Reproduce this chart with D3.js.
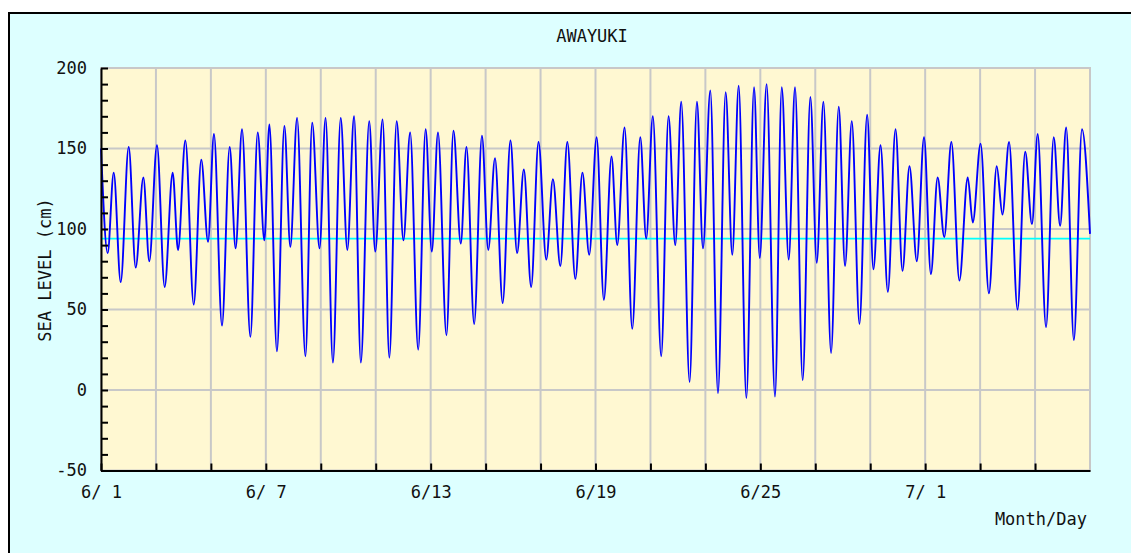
<!DOCTYPE html>
<html>
<head>
<meta charset="utf-8">
<script src="https://cdn.jsdelivr.net/npm/d3@7"></script>
<style>
  body { margin: 0; background: #fff; }
  text { font-family: "DejaVu Sans Mono", monospace; font-size: 17px; fill: #111; }
</style>
</head>
<body>
<div id="chart"></div>
<script>
// station name and tide extremes
var title = "AWAYUKI";

// hours since 6/1 00:00
var tideHours = [0, 5.8, 11.1, 17.2, 24.2, 30.3, 37.0, 42.2, 48.9, 55.6, 62.6, 67.3,
  73.7, 81.0, 87.6, 93.5, 98.7, 105.7, 112.4, 117.6, 123.2, 130.5, 136.9, 142.7,
  147.1, 153.7, 160.2, 165.4, 171.3, 178.6, 184.5, 190.9, 196.2, 202.6, 209.4, 215.2,
  221.1, 227.0, 234.3, 239.6, 246.0, 251.9, 258.3, 264.2, 270.1, 277.1, 283.6, 289.0,
  294.4, 301.8, 307.9, 314.3, 319.3, 326.0, 332.8, 338.3, 344.2, 350.9, 357.7, 363.5,
  369.4, 375.8, 382.2, 389.0, 394.8, 401.3, 407.4, 414.4, 420.6, 426.5, 433.0, 439.3,
  446.0, 451.0, 457.4, 464.1, 471.1, 476.3, 482.1, 489.4, 495.8, 501.7, 506.9, 514.2,
  520.6, 525.9, 532.3, 539.0, 545.7, 551.5, 557.1, 563.8, 570.5, 575.5, 581.5, 588.8,
  594.7, 600.8, 606.3, 613.0, 619.7, 625.3, 631.1, 637.8, 644.5, 650.0, 655.9, 662.6,
  669.3, 674.8, 681.0, 687.4, 694.1, 700.2, 706.3, 712.7, 719.0, 725.0, 730.9, 736.7,
  742.9, 749.9, 757.2, 761.6, 768.4, 775.7, 782.5, 787.5, 793.3, 800.7, 807.4, 813.3,
  818.3, 825.6, 832.3, 837.9, 843.2, 849.9, 857.0, 864];

// sea level (cm)
var tideLevels = [150, 85, 135, 67, 151, 76, 132, 80, 152, 64, 135, 87,
  155, 53, 143, 92, 159, 40, 151, 88, 162, 33, 160, 93,
  165, 24, 164, 89, 169, 21, 166, 88, 169, 17, 169, 87,
  170, 17, 167, 86, 168, 20, 167, 93, 160, 25, 162, 86,
  160, 34, 161, 91, 151, 41, 158, 87, 144, 54, 155, 85,
  137, 64, 154, 81, 131, 77, 154, 69, 135, 84, 157, 56,
  145, 90, 163, 38, 157, 94, 170, 21, 170, 90, 179, 5,
  179, 88, 186, -2, 185, 84, 189, -5, 188, 82, 190, -4,
  188, 81, 188, 6, 182, 79, 179, 23, 176, 77, 167, 41,
  171, 75, 152, 61, 162, 74, 139, 80, 157, 72, 132, 95,
  154, 68, 132, 104, 153, 60, 139, 109, 154, 50, 148, 103,
  159, 39, 157, 102, 163, 31, 162, 97];

var meanLevel = 94;

var xTickHours = [0, 48, 96, 144, 192, 240, 288, 336, 384, 432, 480, 528, 576, 624, 672, 720, 768, 816];
var xLabelHours = [0, 144, 288, 432, 576, 720];
var xLabels = ["6/ 1", "6/ 7", "6/13", "6/19", "6/25", "7/ 1"];
var yLabels = [-50, 0, 50, 100, 150, 200];

(function() {
  var W = 1131, H = 553;
  var plot = { left: 101, right: 1090, top: 68, bottom: 470.5 };

  var svg = d3.select("#chart").append("svg")
    .attr("width", W)
    .attr("height", H);

  // panel
  svg.append("rect")
    .attr("x", 9).attr("y", 13)
    .attr("width", W - 9).attr("height", H - 13)
    .attr("fill", "#ddffff");
  svg.append("path")
    .attr("d", "M9," + H + "V13H" + W)
    .attr("fill", "none")
    .attr("stroke", "#000")
    .attr("stroke-width", 2);

  var x = d3.scaleLinear().domain([0, 864]).range([plot.left, plot.right]);
  var y = d3.scaleLinear().domain([-50, 200]).range([plot.bottom, plot.top]);

  svg.append("rect")
    .attr("x", plot.left).attr("y", plot.top)
    .attr("width", plot.right - plot.left).attr("height", plot.bottom - plot.top)
    .attr("fill", "#fff8d2")
    .attr("stroke", "#c8c8c8")
    .attr("stroke-width", 2);

  // grid
  svg.append("g").selectAll("line")
    .data(xTickHours.slice(1))
    .enter().append("line")
    .attr("x1", function(d) { return x(d); })
    .attr("x2", function(d) { return x(d); })
    .attr("y1", plot.top).attr("y2", plot.bottom)
    .attr("stroke", "#c8c8c8")
    .attr("stroke-width", 2);

  svg.append("g").selectAll("line")
    .data(yLabels.slice(1, -1))
    .enter().append("line")
    .attr("x1", plot.left).attr("x2", plot.right)
    .attr("y1", function(d) { return y(d); })
    .attr("y2", function(d) { return y(d); })
    .attr("stroke", "#c8c8c8")
    .attr("stroke-width", 2);

  // mean sea level
  svg.append("line")
    .attr("x1", plot.left).attr("x2", plot.right)
    .attr("y1", y(meanLevel)).attr("y2", y(meanLevel))
    .attr("stroke", "#00ffff")
    .attr("stroke-width", 1.6);

  // tide curve
  var tide = tideHours.map(function(h, i) { return { hour: h, level: tideLevels[i] }; });

  var line = d3.line()
    .x(function(d) { return x(d.hour); })
    .y(function(d) { return y(d.level); })
    .curve(d3.curveMonotoneX);

  svg.append("path")
    .datum(tide)
    .attr("d", line)
    .attr("fill", "none")
    .attr("stroke", "#0000ff")
    .attr("stroke-width", 1.9)
    .attr("stroke-linejoin", "round");

  // axes
  var yAxis = d3.axisLeft(y)
    .tickValues(y.ticks(25))
    .tickSize(-7)
    .tickSizeOuter(0)
    .tickPadding(14)
    .tickFormat(function(d) { return yLabels.indexOf(d) >= 0 ? d : ""; });

  var xAxis = d3.axisBottom(x)
    .tickValues(xTickHours)
    .tickSize(-7)
    .tickSizeOuter(0)
    .tickPadding(15)
    .tickFormat(function(d) {
      var i = xLabelHours.indexOf(d);
      return i >= 0 ? xLabels[i] : "";
    });

  var gy = svg.append("g")
    .attr("transform", "translate(" + plot.left + ",0)")
    .call(yAxis);

  var gx = svg.append("g")
    .attr("transform", "translate(0," + plot.bottom + ")")
    .call(xAxis);

  [gx, gy].forEach(function(g) {
    g.selectAll("path.domain").attr("stroke", "#000").attr("stroke-width", 2);
    g.selectAll(".tick line").attr("stroke", "#000").attr("stroke-width", 2);
    g.selectAll("text")
      .attr("font-family", "DejaVu Sans Mono, monospace")
      .attr("font-size", 17)
      .attr("fill", "#111")
      .style("white-space", "pre");
  });

  // titles
  svg.append("text")
    .attr("x", 592).attr("y", 42)
    .attr("text-anchor", "middle")
    .text(title);

  svg.append("text")
    .attr("transform", "translate(51,270) rotate(-90)")
    .attr("text-anchor", "middle")
    .style("white-space", "pre")
    .text("SEA LEVEL (cm)");

  svg.append("text")
    .attr("x", 1087).attr("y", 525)
    .attr("text-anchor", "end")
    .text("Month/Day");
})();
</script>
</body>
</html>
